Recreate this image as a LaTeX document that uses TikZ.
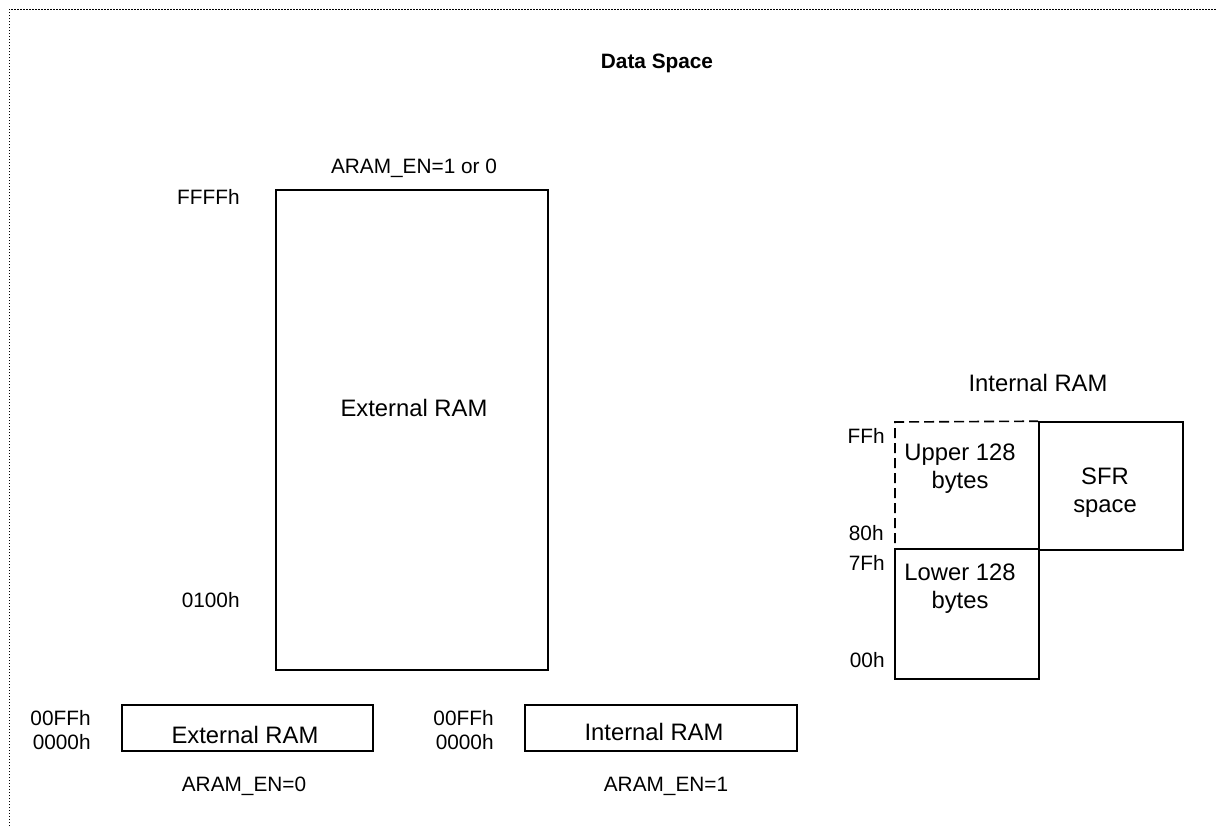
\documentclass[tikz,border=0pt]{standalone}
\usepackage{fontspec}
\setmainfont{Liberation Sans}
\usetikzlibrary{positioning}

\begin{document}
\begin{tikzpicture}[x=0.5pt,y=-0.5pt,font=\fontsize{10.4}{14}\selectfont]
\tikzstyle{mem} = [draw=black, line width=0.8pt, inner sep=0pt]
\tikzstyle{txt} = [inner sep=0pt, align=center]
\tikzstyle{big} = [inner sep=0pt, align=center, font=\fontsize{11.9}{14}\selectfont]
\tikzstyle{addr} = [inner sep=0pt, anchor=east]

\useasboundingbox (0,0) rectangle (1216,826);
\draw[line width=0.5pt, dash pattern=on 0.75pt off 0.75pt] (9,826) -- (9,9) -- (1216,9);

\node[txt, font=\fontsize{10.4}{14}\selectfont\bfseries] (title) at (657,63) {Data Space};

% upper memory
\node[mem, minimum width=136pt, minimum height=240pt] (ext) at (412,430) {};
\node[big] (extname) at (414,408) {External RAM};
\node[txt] (en10) at (414,168) {ARAM\_EN=1 or 0};
\node[addr] (a1) at (240,197) {FFFFh};
\node[addr] (a2) at (240,600) {0100h};

% lower 256 bytes
\node[mem, minimum width=125.5pt, minimum height=23pt] (extlow) at (247.5,728) {};
\node[big] (extlowname) at (245,735) {External RAM};
\node[addr] (a3) at (91,718) {00FFh};
\node[addr] (a4) at (91,742) {0000h};
\node[txt] (en0) at (244,786) {ARAM\_EN=0};

\node[mem, minimum width=136pt, minimum height=23pt] (intlow) at (661,728) {};
\node[big] (intlowname) at (654,732) {Internal RAM};
\node[addr] (a5) at (494,718) {00FFh};
\node[addr] (a6) at (494,742) {0000h};
\node[txt] (en1) at (666,786) {ARAM\_EN=1};

% internal RAM
\node[big] (intname) at (1038,383) {Internal RAM};
\node[mem, minimum width=72pt, minimum height=65pt] (lower) at (967,614) {};
\node[mem, minimum width=72pt, minimum height=64pt] (sfr) at (1111,486) {};
\coordinate (ul) at (895,422);
\coordinate (ulb) at (895,543);
\draw[line width=0.8pt, dash pattern=on 5pt off 2.5pt] (ulb) -- (ul) -- (sfr.north west);
\node[big] (uppername) at (960,469) {Upper 128\\bytes};
\node[big] (lowername) at (960,589) {Lower 128\\bytes};
\node[big] (sfrname) at (1105,493) {SFR\\space};
\node[addr] (b1) at (885,436) {FFh};
\node[addr] (b2) at (884,533) {80h};
\node[addr] (b3) at (885,563) {7Fh};
\node[addr] (b4) at (885,660) {00h};
\end{tikzpicture}
\end{document}
